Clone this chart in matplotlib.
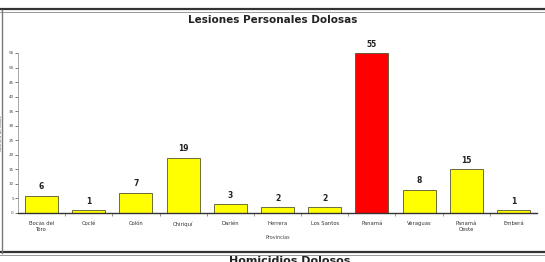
import matplotlib.pyplot as plt
from matplotlib.lines import Line2D

provincias = ['Bocas del\nToro', 'Coclé', 'Colón', 'Chiriquí', 'Darién', 'Herrera',
              'Los Santos', 'Panamá', 'Veraguas', 'Panamá\nOeste', 'Emberá']
casos = [6, 1, 7, 19, 3, 2, 2, 55, 8, 15, 1]
colores = ['#ffff00'] * len(casos)
colores[casos.index(max(casos))] = '#ff0000'

W, H = 545, 262
fig = plt.figure(figsize=(W / 100, H / 100), dpi=100)
fig.patch.set_facecolor('white')

# axes box in pixel terms
x0, x1, y_top, y_bot = 18, 537, 53, 213
ax = fig.add_axes([x0 / W, 1 - y_bot / H, (x1 - x0) / W, (y_bot - y_top) / H])

pos = list(range(len(casos)))
bars = ax.bar(pos, casos, width=0.7, color=colores, edgecolor='#555533', linewidth=0.6)
for b, v in zip(bars, casos):
    ax.text(b.get_x() + b.get_width() / 2, v + 1.5, str(v), ha='center', va='bottom',
            fontsize=5.5, fontweight='bold', color='#222222')

ax.set_xlim(-0.5, len(casos) - 0.5)
ax.set_ylim(0, 55)
ax.set_yticks(range(0, 56, 5))
ax.tick_params(axis='y', labelsize=3, length=2, width=0.5, pad=1, colors='#444444')
ax.set_xticks(pos)
ax.set_xticklabels(provincias, fontsize=3.8, color='#333333')
ax.set_xticks([p + 0.5 for p in pos[:-1]], minor=True)
ax.tick_params(axis='x', which='major', length=0, pad=6)
ax.tick_params(axis='x', which='minor', length=2, width=0.5, direction='out', colors='#666666')
ax.set_xlabel('Provincias', fontsize=3.5, color='#444444', labelpad=2)
ax.set_ylabel('Número de casos', fontsize=3, color='#555555', labelpad=4)
for s in ['top', 'right']:
    ax.spines[s].set_visible(False)
ax.spines['left'].set_color('#999999')
ax.spines['left'].set_linewidth(0.6)
ax.spines['bottom'].set_color('#333333')
ax.spines['bottom'].set_linewidth(1.0)

fig.text(0.5, 1 - 20 / H, 'Lesiones Personales Dolosas', ha='center', va='center',
         fontsize=7.5, fontweight='bold', color='#222222')
fig.text(290 / W, 1 - 256 / H, 'Homicidios Dolosos', ha='center', va='top',
         fontsize=8, fontweight='bold', color='#222222')

# page frame lines
for y, lw, c in [(9, 1.6, '#333333'), (11.5, 0.6, '#888888'),
                 (252, 1.6, '#333333'), (254.5, 0.6, '#888888')]:
    fig.add_artist(Line2D([0, 1], [1 - y / H, 1 - y / H], transform=fig.transFigure,
                          color=c, linewidth=lw))
fig.add_artist(Line2D([1.5 / W, 1.5 / W], [1 - 10 / H, 1 - 253 / H],
                      transform=fig.transFigure, color='#777777', linewidth=1.0))

fig.savefig('out.png', dpi=100)
